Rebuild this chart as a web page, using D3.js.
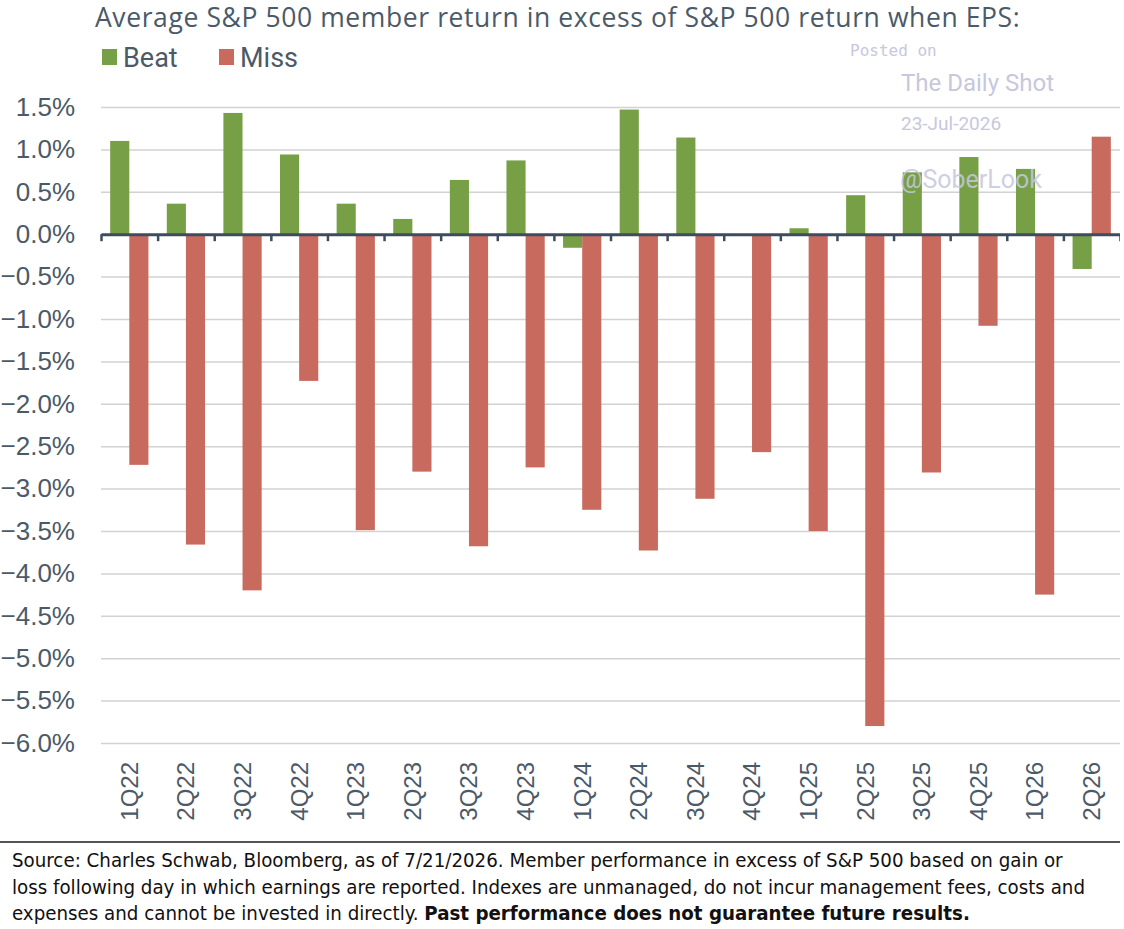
<!DOCTYPE html>
<html>
<head>
<meta charset="utf-8">
<script src="https://cdn.jsdelivr.net/npm/d3@7"></script>
<style>
    body { margin: 0; background: #fff; }
    svg { display: block; }
</style>
</head>
<body>
<svg id="drawing_region"></svg>
<script>
const quarters = ['1Q22','2Q22','3Q22','4Q22','1Q23','2Q23','3Q23','4Q23','1Q24',
                  '2Q24','3Q24','4Q24','1Q25','2Q25','3Q25','4Q25','1Q26','2Q26'];
const beat = [1.10, 0.36, 1.43, 0.94, 0.36, 0.18, 0.64, 0.87, -0.16,
              1.47, 1.14, 0.0, 0.07, 0.46, 0.73, 0.91, 0.77, -0.41];
const miss = [-2.72, -3.66, -4.20, -1.73, -3.49, -2.80, -3.68, -2.75, -3.25,
              -3.73, -3.12, -2.57, -3.50, -5.80, -2.81, -1.08, -4.25, 1.15];
const series = ['Beat', 'Miss'];
const y_ticks = [1.5, 1.0, 0.5, 0.0, -0.5, -1.0, -1.5, -2.0, -2.5, -3.0,
                 -3.5, -4.0, -4.5, -5.0, -5.5, -6.0];

const data = quarters.map( (q, i) => ({ label: q, Beat: beat[i], Miss: miss[i] }) );

class BarChart {

    constructor( config, data ) {
        this.config = {
            parent: config.parent,
            width: config.width || 256,
            height: config.height || 256,
            margin: config.margin || {top:20, right:20, bottom:20, left:20}
        }
        this.data = data;
        this.init();
    }

    init() {
        let self = this;

        self.svg = d3.select( self.config.parent )
            .attr('width', self.config.width)
            .attr('height', self.config.height)
            .style('font-family', 'Roboto, "Open Sans", sans-serif');

        self.chart = self.svg.append('g')
            .attr('transform', `translate(${self.config.margin.left}, ${self.config.margin.top})`);

        self.inner_width = self.config.width - self.config.margin.left - self.config.margin.right;
        self.inner_height = self.config.height - self.config.margin.top - self.config.margin.bottom;

        self.xscale = d3.scaleBand()
            .range( [0, self.inner_width] );

        self.xsub = d3.scaleBand()
            .paddingOuter(0.48);

        self.yscale = d3.scaleLinear()
            .range( [0, self.inner_height] );

        self.color = d3.scaleOrdinal()
            .domain(series)
            .range(['#77a046', '#c96a5f']);

        self.yaxis = d3.axisLeft( self.yscale )
            .tickValues(y_ticks)
            .tickSize(-self.inner_width)
            .tickPadding(26)
            .tickFormat( d => d3.format('.1f')(d) + '%' );

        self.yaxis_group = self.chart.append('g');
        self.bar_group = self.chart.append('g');
        self.zero_group = self.chart.append('g');
        self.xaxis_group = self.chart.append('g');
    }

    update() {
        let self = this;

        self.xscale.domain( self.data.map(d => d.label) );
        self.xsub.domain(series).range([0, self.xscale.bandwidth()]);
        self.yscale.domain( [1.5, -6.0] );

        self.render();
    }

    render() {
        let self = this;

        self.yaxis_group.call( self.yaxis )
            .call( g => g.select('.domain').remove() )
            .call( g => g.selectAll('.tick line').attr('stroke', '#d2d2d2').attr('stroke-width', 1.5) )
            .call( g => g.selectAll('.tick text')
                .attr('fill', '#4b5a68')
                .style('font-size', '26px') );

        self.bar_group.selectAll('g')
            .data(self.data)
            .join('g')
            .attr('transform', d => `translate(${self.xscale(d.label)},0)`)
            .selectAll('rect')
            .data( d => series.map(k => ({ key: k, value: d[k] })) )
            .join('rect')
            .attr('x', d => self.xsub(d.key))
            .attr('y', d => self.yscale( Math.max(0, d.value) ))
            .attr('width', self.xsub.bandwidth())
            .attr('height', d => Math.abs( self.yscale(d.value) - self.yscale(0) ))
            .attr('fill', d => self.color(d.key));

        // zero line with ticks at category boundaries
        const edge = d3.scaleLinear()
            .domain([0, self.data.length])
            .range([0, self.inner_width]);

        self.zero_group
            .attr('transform', `translate(0, ${self.yscale(0)})`)
            .call( d3.axisBottom(edge)
                .tickValues(d3.range(self.data.length + 1))
                .tickFormat('')
                .tickSize(7)
                .tickSizeOuter(0) )
            .call( g => g.select('.domain').attr('stroke', '#3d4c5e').attr('stroke-width', 3) )
            .call( g => g.selectAll('.tick line').attr('stroke', '#3d4c5e').attr('stroke-width', 2.5) );

        self.xaxis_group
            .attr('transform', `translate(0, ${self.yscale(-6.0)})`)
            .call( d3.axisBottom(self.xscale).tickSize(0) )
            .call( g => g.select('.domain').remove() )
            .call( g => g.selectAll('.tick text')
                .attr('fill', '#4b5a68')
                .style('font-size', '24px')
                .attr('text-anchor', 'end')
                .attr('dy', '0.35em')
                .attr('transform', 'translate(0,19) rotate(-90)')
                .attr('x', 0)
                .attr('y', 0) );
    }
}

const config = {
    parent: '#drawing_region',
    width: 1120,
    height: 929,
    margin: {top:107, right:0, bottom:186, left:101}
};

const bar_chart = new BarChart( config, data );
bar_chart.update();

// title, legend, watermark, footer
const svg = d3.select('#drawing_region');
const txt = '#4b5a68';

svg.append('text')
    .attr('x', 95).attr('y', 27)
    .attr('fill', txt)
    .style('font-family', '"Open Sans", sans-serif')
    .style('font-size', '26.5px')
    .style('letter-spacing', '0.6px')
    .text('Average S&P 500 member return in excess of S&P 500 return when EPS:');

const legend = svg.append('g').selectAll('g')
    .data(series)
    .join('g')
    .attr('transform', (d, i) => `translate(${102 + i * 117}, 0)`);

legend.append('rect')
    .attr('x', 0).attr('y', 49)
    .attr('width', 15).attr('height', 16)
    .attr('fill', d => bar_chart.color(d));

legend.append('text')
    .attr('x', 21).attr('y', 67)
    .attr('fill', txt)
    .style('font-size', '27px')
    .text(d => d);

const wm = '#c7c7de';
svg.append('text')
    .attr('x', 850).attr('y', 56)
    .attr('fill', wm)
    .style('font-family', '"DejaVu Sans Mono", monospace')
    .style('font-size', '16px')
    .text('Posted on');
svg.append('text')
    .attr('x', 901).attr('y', 91)
    .attr('fill', wm)
    .style('font-size', '24px')
    .text('The Daily Shot');
svg.append('text')
    .attr('x', 901).attr('y', 130)
    .attr('fill', wm)
    .style('font-size', '19px')
    .text('23-Jul-2026');
svg.append('text')
    .attr('x', 900).attr('y', 188)
    .attr('fill', wm)
    .attr('opacity', 0.85)
    .style('font-size', '25px')
    .text('@SoberLook');

svg.append('line')
    .attr('x1', 0).attr('x2', 1124)
    .attr('y1', 842).attr('y2', 842)
    .attr('stroke', '#555')
    .attr('stroke-width', 2);

const foot = svg.append('text')
    .attr('fill', '#111')
    .style('font-family', '"Liberation Sans Narrow", "DejaVu Sans Condensed", sans-serif')
    .style('font-size', '20.3px');

foot.append('tspan').attr('x', 12).attr('y', 867)
    .text('Source: Charles Schwab, Bloomberg, as of 7/21/2026. Member performance in excess of S&P 500 based on gain or');
foot.append('tspan').attr('x', 12).attr('y', 894)
    .text('loss following day in which earnings are reported. Indexes are unmanaged, do not incur management fees, costs and');
foot.append('tspan').attr('x', 12).attr('y', 920)
    .text('expenses and cannot be invested in directly.  ');
foot.append('tspan')
    .style('font-weight', 'bold')
    .text('Past performance does not guarantee future results.');
</script>
</body>
</html>
